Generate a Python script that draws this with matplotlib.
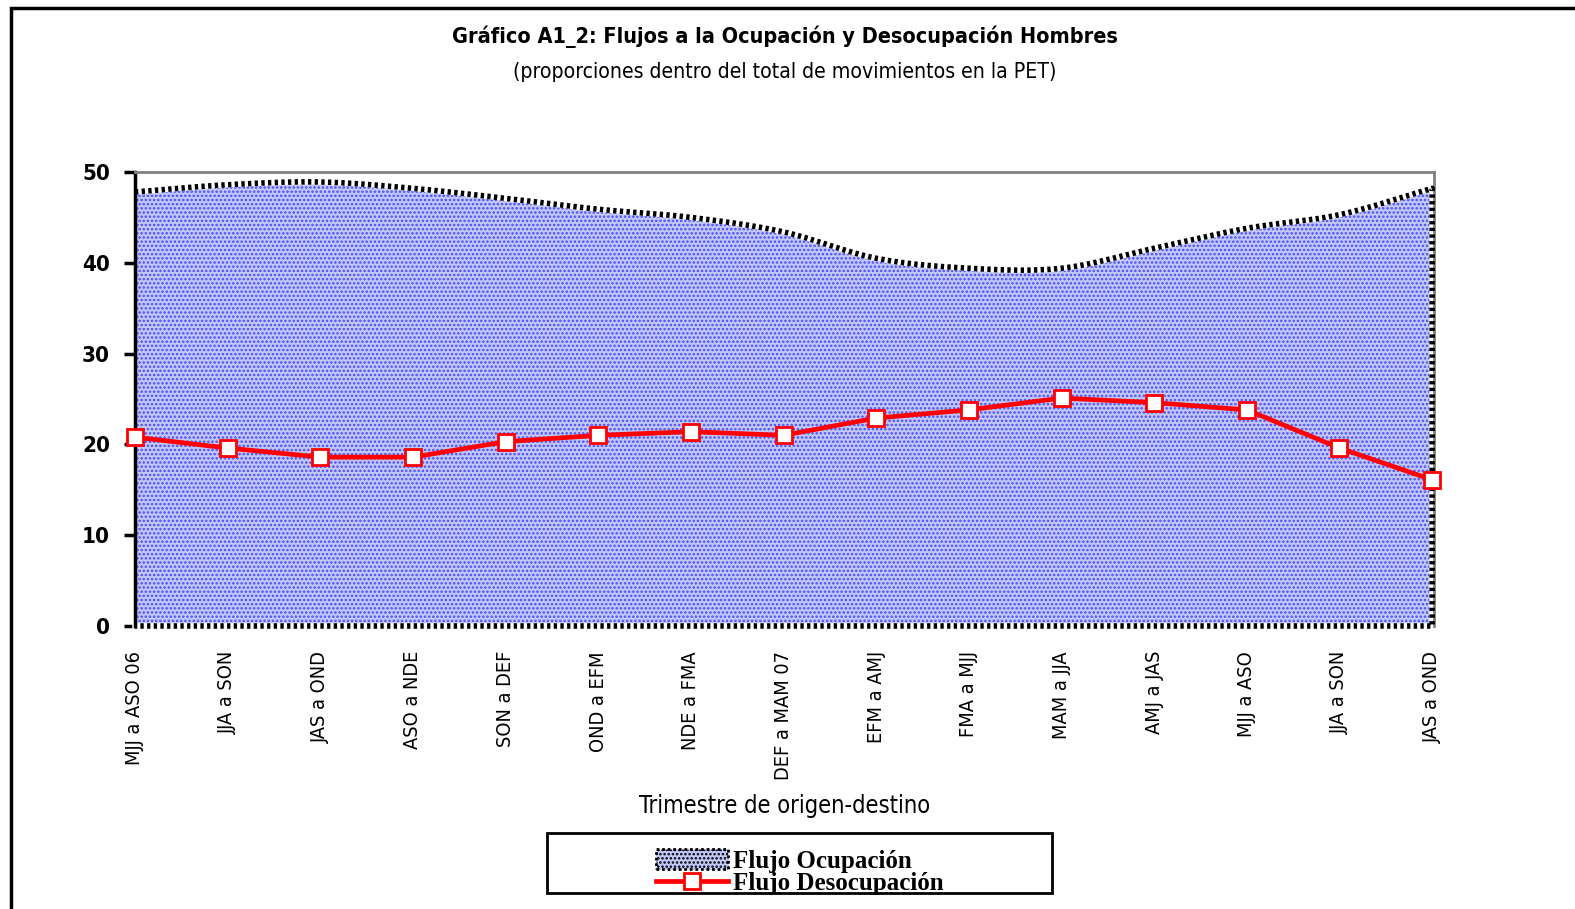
import numpy as np
import matplotlib
matplotlib.use("Agg")
import matplotlib.pyplot as plt
from matplotlib.patches import Rectangle, Patch
from matplotlib.lines import Line2D

periodos = ["MJJ a ASO 06", "JJA a SON", "JAS a OND", "ASO a NDE", "SON a DEF",
            "OND a EFM", "NDE a FMA", "DEF a MAM 07", "EFM a AMJ", "FMA a MJJ",
            "MAM a JJA", "AMJ a JAS", "MJJ a ASO", "JJA a SON", "JAS a OND"]
ocupacion = [47.8, 48.6, 48.9, 48.2, 47.1, 45.9, 45.0, 43.4, 40.5, 39.4,
             39.4, 41.6, 43.8, 45.3, 48.2]
desocupacion = [20.8, 19.6, 18.6, 18.6, 20.3, 21.0, 21.4, 21.0, 22.9, 23.8,
                25.1, 24.6, 23.8, 19.6, 16.1]

serif = ['Liberation Serif', 'DejaVu Serif']
plt.rcParams['font.family'] = ['DejaVu Sans']
plt.rcParams['font.stretch'] = 'condensed'
plt.rcParams['hatch.linewidth'] = 1.2


def suavizar(xs, ys, n=30):
    # Catmull-Rom, como las lineas suavizadas de Excel
    xs = np.asarray(xs, float)
    ys = np.asarray(ys, float)
    px = np.concatenate([[2 * xs[0] - xs[1]], xs, [2 * xs[-1] - xs[-2]]])
    py = np.concatenate([[2 * ys[0] - ys[1]], ys, [2 * ys[-1] - ys[-2]]])
    ox, oy = [], []
    t = np.linspace(0, 1, n, endpoint=False)
    for i in range(1, len(px) - 2):
        for p, out in ((px, ox), (py, oy)):
            p0, p1, p2, p3 = p[i - 1], p[i], p[i + 1], p[i + 2]
            out.extend(0.5 * (2 * p1 + (-p0 + p2) * t + (2 * p0 - 5 * p1 + 4 * p2 - p3) * t ** 2
                              + (-p0 + 3 * p1 - 3 * p2 + p3) * t ** 3))
    ox.append(xs[-1])
    oy.append(ys[-1])
    return np.array(ox), np.array(oy)


x = np.arange(len(periodos))
sx, sy = suavizar(x, ocupacion)

fig = plt.figure(figsize=(15.75, 9.09), dpi=100)
fig.patches.append(Rectangle((11 / 1575, -0.1), 1.2, 1 - 8 / 909 + 0.1, transform=fig.transFigure,
                             fill=False, edgecolor='black', linewidth=2.5))

ax = fig.add_axes([135 / 1575, 1 - 626 / 909, (1434 - 135) / 1575, (626 - 172) / 909])

relleno = '#c2c8f8'
ax.fill_between(sx, 0, sy, facecolor=relleno, hatch='....', edgecolor='#4a4aff', linewidth=0, zorder=1)
ox = np.concatenate([sx, [x[-1], x[0]]])
oy = np.concatenate([sy, [0, 0]])
ax.plot(ox, oy, color='white', linewidth=4, zorder=2, clip_on=False)
ax.plot(ox, oy, color='black', linewidth=4, linestyle=(0, (0.6, 0.6)), zorder=3, clip_on=False)

ax.plot(x, desocupacion, color='#ff0000', linewidth=3.4, marker='s', markersize=12,
        markerfacecolor='white', markeredgecolor='#ff0000', markeredgewidth=2, zorder=4, clip_on=False)

ax.set_xlim(0, 14.02)
ax.set_ylim(0, 50)
ax.set_yticks(range(0, 51, 10))
ax.tick_params(axis='y', direction='out', length=8, width=2.5, pad=10, labelsize=16)
for lb in ax.get_yticklabels():
    lb.set_fontweight('bold')
ax.set_xticks(x)
ax.set_xticklabels(periodos, rotation=90, va='top', ha='center', fontsize=14.3)
ax.tick_params(axis='x', length=0, pad=18)

ax.spines['left'].set_linewidth(2.5)
ax.spines['bottom'].set_visible(False)
for s in ('top', 'right'):
    ax.spines[s].set_color('#808080')
    ax.spines[s].set_linewidth(2)

ax.set_xlabel('Trimestre de origen-destino', fontsize=17, va='center')
ax.xaxis.set_label_coords(0.5, (626 - 806) / 454)

fig.text(785 / 1575, 1 - 37 / 909, 'Gráfico A1_2: Flujos a la Ocupación y Desocupación Hombres',
         ha='center', va='center', fontsize=15.5, fontweight='bold')
fig.text(785 / 1575, 1 - 72 / 909, '(proporciones dentro del total de movimientos en la PET)',
         ha='center', va='center', fontsize=15.2)

handles = [Patch(facecolor=relleno, hatch='....', edgecolor='black', linewidth=2, linestyle=(0, (1, 1))),
           Line2D([], [], color='#ff0000', linewidth=3.4, marker='s', markersize=12,
                  markerfacecolor='white', markeredgecolor='#ff0000', markeredgewidth=2)]
leg = fig.legend(handles, ['Flujo Ocupación', 'Flujo Desocupación'],
                 loc='center', bbox_to_anchor=(800 / 1575, 1 - 872 / 909),
                 prop={'family': serif, 'weight': 'bold', 'size': 18},
                 frameon=False, borderpad=0.0, labelspacing=-0.05,
                 handlelength=2.9, handleheight=0.9, handletextpad=0.2)
fig.patches.append(Rectangle((547 / 1575, 1 - 893 / 909), 505 / 1575, 60 / 909,
                             transform=fig.transFigure, fill=False, edgecolor='black', linewidth=2))

fig.savefig('out.png', dpi=100)
